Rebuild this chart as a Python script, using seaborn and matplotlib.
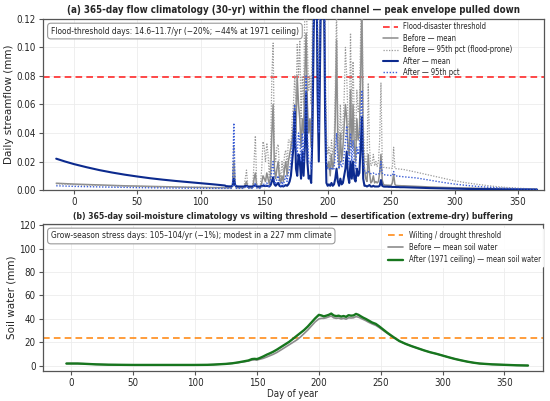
import numpy as np
import pandas as pd
import matplotlib
matplotlib.use("Agg")
import matplotlib.pyplot as plt
import seaborn as sns

# ---------------- data: panel (a) streamflow ----------------
start_days = [-14, -7, 0, 10, 20, 30, 40, 50, 60, 70, 80, 90, 100, 110, 119]
after_mean_start = [.0220, .0200, .0182, .0160, .0140, .0123, .0108, .0095, .0083, .0073, .0064, .0056, .0048, .0040, .0032]
after_95_start = [.0030, .0028, .0026, .0024, .0022, .0020, .0019, .0017, .0016, .0015, .0014, .0013, .0013, .0012, .0012]
before_mean_start = [.0048, .0045, .0042, .0039, .0036, .0033, .0030, .0028, .0026, .0024, .0022, .0020, .0019, .0017, .0016]
before_95_start = [.0044, .0041, .0038, .0035, .0033, .0030, .0028, .0026, .0024, .0022, .0021, .0020, .0019, .0018, .0018]

mid_days = list(range(120, 261))
after_mean_mid = [
    .0027, .0027, .0026, .0026, .0026, .0030, .0080, .0035, .0026, .0026,
    .0025, .0025, .0025, .0025, .0025, .0028, .0030, .0025, .0025, .0025,
    .0025, .0025, .0030, .0035, .0025, .0025, .0025, .0025, .0028, .0030,
    .0030, .0028, .0030, .0028, .0025, .0035, .0060, .0090, .0040, .0030,
    .0040, .0050, .0030, .0025, .0030, .0025, .0030, .0035, .0030, .0040,
    .0060, .0100, .0200, .0300, .0550, .0150, .0100, .0250, .0200, .0080,
    .0270, .0100, .0300, .0680, .0200, .0080, .0100, .0050, .0400, .1130,
    .1500, .1800, .0700, .0200, .0900, .1600, .2000, .1500, .0500, .0050,
    .0030, .0040, .0030, .0050, .0030, .0040, .0080, .0150, .0060, .0030,
    .0080, .0040, .0050, .0100, .0150, .0270, .0100, .0050, .0200, .0080,
    .0200, .0080, .0060, .0150, .0100, .0120, .0300, .0510, .0080, .0030,
    .0030, .0025, .0030, .0035, .0025, .0025, .0030, .0025, .0025, .0025,
    .0025, .0030, .0070, .0030, .0025, .0024, .0024, .0024, .0023, .0023,
    .0023, .0022, .0022, .0022, .0021, .0021, .0021, .0020, .0020, .0020,
    .0020]
after_95_mid = [
    .0012, .0012, .0012, .0012, .0012, .0030, .0470, .0040, .0012, .0012,
    .0012, .0012, .0012, .0012, .0012, .0020, .0030, .0012, .0012, .0012,
    .0012, .0012, .0030, .0050, .0015, .0012, .0012, .0012, .0020, .0040,
    .0040, .0030, .0050, .0030, .0020, .0060, .0150, .0200, .0060, .0040,
    .0080, .0100, .0050, .0030, .0060, .0030, .0070, .0100, .0060, .0120,
    .0150, .0200, .0300, .0450, .0600, .0300, .0250, .0400, .0350, .0200,
    .0400, .0200, .0500, .0800, .0400, .0200, .0200, .0150, .0700, .1300,
    .1800, .2000, .1000, .0400, .1200, .1800, .2200, .1800, .0800, .0200,
    .0150, .0150, .0140, .0160, .0140, .0150, .0250, .0400, .0200, .0150,
    .0200, .0160, .0180, .0250, .0350, .0450, .0250, .0180, .0400, .0200,
    .0350, .0200, .0150, .0300, .0250, .0300, .0500, .0700, .0250, .0130,
    .0120, .0120, .0130, .0120, .0115, .0115, .0120, .0110, .0110, .0110,
    .0110, .0120, .0200, .0120, .0108, .0107, .0106, .0105, .0104, .0103,
    .0102, .0101, .0130, .0100, .0099, .0098, .0097, .0096, .0095, .0094,
    .0093]
before_mean_mid = [
    .0016, .0016, .0016, .0016, .0016, .0030, .0200, .0040, .0016, .0016,
    .0016, .0016, .0016, .0016, .0016, .0040, .0060, .0020, .0016, .0016,
    .0016, .0020, .0080, .0120, .0030, .0016, .0016, .0020, .0050, .0100,
    .0080, .0060, .0120, .0080, .0040, .0100, .0400, .0600, .0150, .0080,
    .0150, .0200, .0080, .0050, .0100, .0060, .0150, .0200, .0100, .0200,
    .0250, .0300, .0350, .0450, .0600, .0400, .0800, .0600, .0500, .0300,
    .0500, .0400, .0800, .1100, .0600, .0400, .0500, .0300, .0800, .1300,
    .1600, .1900, .0900, .0400, .1100, .1700, .2100, .1600, .0700, .0200,
    .0150, .0200, .0100, .0250, .0150, .0200, .0500, .1050, .0300, .0150,
    .0400, .0200, .0300, .0450, .0600, .0500, .0300, .0250, .0700, .0300,
    .0600, .0300, .0200, .0500, .0350, .0400, .0800, .1300, .0300, .0150,
    .0080, .0060, .0250, .0120, .0050, .0060, .0100, .0050, .0060, .0050,
    .0060, .0120, .0250, .0070, .0040, .0035, .0035, .0034, .0034, .0033,
    .0033, .0050, .0110, .0040, .0032, .0032, .0031, .0031, .0030, .0030,
    .0030]
before_95_mid = [
    .0018, .0018, .0018, .0018, .0018, .0040, .0300, .0050, .0018, .0018,
    .0018, .0018, .0018, .0018, .0018, .0080, .0140, .0030, .0018, .0018,
    .0018, .0030, .0200, .0380, .0050, .0018, .0020, .0040, .0150, .0340,
    .0300, .0200, .0330, .0250, .0080, .0250, .0800, .1030, .0300, .0200,
    .0300, .0320, .0150, .0080, .0200, .0120, .0250, .0280, .0150, .0350,
    .0350, .0300, .0500, .0600, .0800, .0600, .1020, .0800, .1050, .0500,
    .0800, .0600, .1300, .1400, .1000, .0700, .0800, .0600, .1200, .1500,
    .2000, .2200, .1200, .0600, .1400, .2000, .2400, .2000, .1000, .0400,
    .0250, .0300, .0200, .0350, .0250, .0300, .0700, .1300, .0500, .0250,
    .0600, .0350, .0450, .0650, .1000, .0800, .0500, .0400, .1100, .0500,
    .0900, .0500, .0350, .0700, .0550, .0600, .1100, .1500, .0500, .0250,
    .0200, .0180, .0750, .0300, .0170, .0180, .0250, .0170, .0200, .0165,
    .0200, .0350, .0750, .0200, .0160, .0158, .0157, .0156, .0155, .0154,
    .0153, .0152, .0300, .0151, .0150, .0149, .0148, .0147, .0146, .0145,
    .0144]

end_days = [270, 280, 290, 300, 310, 320, 330, 340, 350, 360, 365]
after_mean_end = [.0017, .0014, .0012, .0010, .0008, .0007, .0006, .0005, .0004, .0003, .0003]
after_95_end = [.0085, .0070, .0055, .0042, .0032, .0024, .0018, .0013, .0010, .0008, .0007]
before_mean_end = [.0026, .0022, .0019, .0016, .0014, .0012, .0010, .0009, .0008, .0007, .0006]
before_95_end = [.0125, .0105, .0085, .0065, .0050, .0038, .0027, .0019, .0013, .0009, .0008]

flood_threshold = 0.079

# ---------------- data: panel (b) soil water ----------------
soil_days = [-4, 5, 10, 20, 30, 40, 50, 60, 70, 80, 90, 100, 110, 115, 120, 125, 130, 135,
             140, 143, 146, 148, 150, 152, 155, 158, 160, 163, 166, 170, 173, 176, 179,
             182, 185, 188, 191, 194, 197, 200, 202, 204, 206, 208, 210, 212, 214, 216,
             218, 220, 222, 224, 226, 228, 230, 232, 234, 236, 238, 240, 243, 246, 249,
             252, 255, 258, 261, 265, 270, 275, 280, 285, 290, 295, 300, 305, 310, 315,
             320, 325, 330, 340, 350, 360, 369]
soil_after = [2.0, 2.0, 1.8, 1.3, 1.0, 0.9, 0.8, 0.8, 0.8, 0.8, 0.8, 0.8, 0.9, 1.1, 1.4, 1.7, 2.2, 3.0,
              4.0, 4.6, 5.8, 6.0, 5.8, 6.6, 8.0, 9.6, 10.5, 12.0, 13.8, 16.5, 18.5, 20.5, 23.0,
              25.5, 28.0, 30.5, 33.5, 37.0, 40.5, 43.5, 43.0, 42.2, 42.8, 43.5, 44.6, 43.0, 42.4, 42.8,
              42.0, 42.5, 41.8, 43.2, 42.8, 43.0, 44.3, 43.5, 42.2, 41.0, 40.0, 38.8, 37.0, 35.8, 33.5,
              31.0, 28.5, 26.2, 24.0, 21.2, 18.8, 16.8, 15.0, 13.2, 11.6, 10.3, 8.8, 7.3, 5.9, 4.7,
              3.6, 2.7, 2.0, 1.3, 0.9, 0.5, 0.3]
soil_before = [2.0, 2.0, 1.8, 1.3, 1.0, 0.9, 0.8, 0.8, 0.8, 0.8, 0.8, 0.8, 0.9, 1.1, 1.4, 1.7, 2.2, 2.9,
               3.6, 4.1, 5.0, 5.2, 5.0, 5.6, 6.4, 7.6, 8.5, 9.8, 11.4, 14.0, 16.0, 18.0, 20.0,
               22.0, 24.5, 27.5, 30.5, 34.0, 37.5, 40.0, 40.5, 40.5, 41.0, 41.8, 42.5, 41.0, 40.5, 40.8,
               40.0, 40.5, 39.8, 41.0, 40.8, 41.0, 42.0, 41.5, 40.5, 39.5, 38.5, 37.3, 35.8, 34.5, 32.5,
               30.2, 28.0, 25.8, 23.8, 21.1, 18.8, 16.8, 15.0, 13.2, 11.6, 10.3, 8.8, 7.3, 5.9, 4.7,
               3.6, 2.7, 2.0, 1.3, 0.9, 0.5, 0.3]
wilting_threshold = 24.0

x_ticks = [0, 50, 100, 150, 200, 250, 300, 350]
flow_ticks = [0.00, 0.02, 0.04, 0.06, 0.08, 0.10, 0.12]
soil_ticks = [0, 20, 40, 60, 80, 100, 120]

# ---------------- assemble ----------------
flow = pd.DataFrame({
    "day": start_days + mid_days + end_days,
    "after_mean": after_mean_start + after_mean_mid + after_mean_end,
    "after_95": after_95_start + after_95_mid + after_95_end,
    "before_mean": before_mean_start + before_mean_mid + before_mean_end,
    "before_95": before_95_start + before_95_mid + before_95_end,
})
soil = pd.DataFrame({"day": soil_days, "before": soil_before, "after": soil_after})

sns.set_theme(style="whitegrid")
plt.rcParams["font.family"] = ["DejaVu Sans"]
plt.rcParams["font.stretch"] = "condensed"
plt.rcParams["axes.edgecolor"] = "#555555"
plt.rcParams["grid.color"] = "#ececec"
plt.rcParams["grid.linewidth"] = 0.6

fig = plt.figure(figsize=(5.5, 4.01), dpi=100)
ax1 = fig.add_axes([0.078, 0.526, 0.911, 0.427])
ax2 = fig.add_axes([0.078, 0.075, 0.909, 0.366])

TICK_FS = 7.0
# panel a
ax1.axhline(flood_threshold, color="#ff2a2a", ls=(0, (4, 2.5)), lw=1.2, label="Flood-disaster threshold", zorder=2)
sns.lineplot(data=flow, x="day", y="before_mean", ax=ax1, color="#8c8c8c", lw=1.1, label="Before — mean", zorder=3)
sns.lineplot(data=flow, x="day", y="before_95", ax=ax1, color="#9a9a9a", lw=0.9, ls=(0, (1, 1.2)), label="Before — 95th pct (flood-prone)", zorder=3)
sns.lineplot(data=flow, x="day", y="after_mean", ax=ax1, color="#0c2a8e", lw=1.5, label="After — mean", zorder=4)
sns.lineplot(data=flow, x="day", y="after_95", ax=ax1, color="#3d5fd6", lw=1.0, ls=(0, (1, 1.2)), label="After — 95th pct", zorder=4)
ax1.set_xlim(-24.5, 370.5)
ax1.set_ylim(0, 0.12)
ax1.set_xticks(x_ticks)
ax1.set_yticks(flow_ticks)
ax1.set_yticklabels([f"{v:.2f}" for v in flow_ticks])
ax1.set_xlabel("")
ax1.set_ylabel("Daily streamflow (mm)", fontsize=7.5, fontstretch="normal", labelpad=2)
ax1.set_title("(a) 365-day flow climatology (30-yr) within the flood channel — peak envelope pulled down",
              fontsize=7.0, fontweight="bold", pad=4)
ax1.text(0.016, 0.955, "Flood-threshold days: 14.6–11.7/yr (−20%; −44% at 1971 ceiling)",
         transform=ax1.transAxes, va="top", ha="left", fontsize=6.0,
         bbox=dict(boxstyle="round,pad=0.4", fc="white", ec="#9a9a9a", lw=0.8), zorder=6)
leg1 = ax1.legend(loc="upper left", bbox_to_anchor=(0.674, 0.993), borderaxespad=0,
                  fontsize=5.5, frameon=False,
                  handlelength=2.0, handletextpad=0.65, labelspacing=0.32, borderpad=0.3)
leg1.set_zorder(5)

# panel b
ax2.axhline(wilting_threshold, color="#ff8c1a", ls=(0, (4, 2.5)), lw=1.2, label="Wilting / drought threshold", zorder=2)
sns.lineplot(data=soil, x="day", y="before", ax=ax2, color="#8c8c8c", lw=1.2, label="Before — mean soil water", zorder=3)
sns.lineplot(data=soil, x="day", y="after", ax=ax2, color="#17761e", lw=1.7, label="After (1971 ceiling) — mean soil water", zorder=4)
ax2.set_xlim(-23, 381)
ax2.set_ylim(-4.3, 120.8)
ax2.set_xticks(x_ticks)
ax2.set_yticks(soil_ticks)
ax2.set_xlabel("Day of year", fontsize=7.0, labelpad=1)
ax2.set_ylabel("Soil water (mm)", fontsize=7.5, fontstretch="normal", labelpad=2)
ax2.set_title("(b) 365-day soil-moisture climatology vs wilting threshold — desertification (extreme-dry) buffering",
              fontsize=6.2, fontweight="bold", pad=4)
ax2.text(0.016, 0.95, "Grow-season stress days: 105–104/yr (−1%); modest in a 227 mm climate",
         transform=ax2.transAxes, va="top", ha="left", fontsize=6.0,
         bbox=dict(boxstyle="round,pad=0.4", fc="white", ec="#9a9a9a", lw=0.8), zorder=6)
leg2 = ax2.legend(loc="upper left", bbox_to_anchor=(0.685, 0.971), borderaxespad=0,
                  fontsize=5.5, frameon=True, framealpha=0.9, edgecolor="white",
                  handlelength=2.0, handletextpad=0.75, labelspacing=0.43, borderpad=0.3)
leg2.set_zorder(5)

for ax in (ax1, ax2):
    ax.tick_params(axis="both", labelsize=TICK_FS, left=True, bottom=True, length=3, width=0.8,
                   color="#555555", pad=2)
    for s in ax.spines.values():
        s.set_color("#555555")
        s.set_linewidth(0.9)
    ax.grid(True, color="#ececec", lw=0.6)

fig.savefig("out.png", dpi=100)
